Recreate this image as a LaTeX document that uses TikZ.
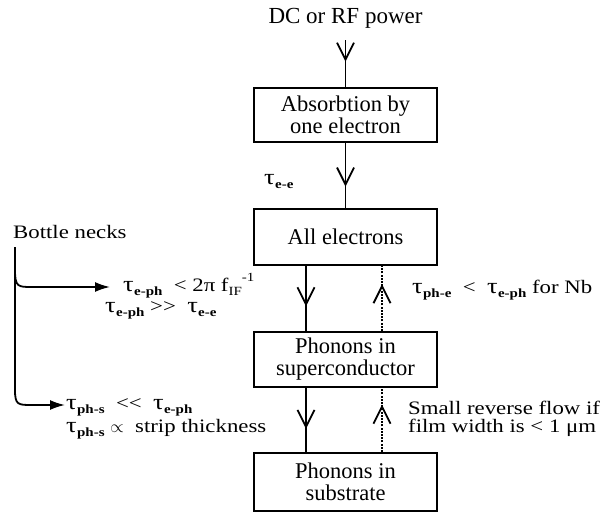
\documentclass[tikz,border=0pt]{standalone}
\usepackage{fontspec}
\setmainfont{Liberation Serif}
\newfontfamily\lblfont[FakeStretch=1.2]{Liberation Serif}
\usetikzlibrary{arrows.meta,decorations.markings,calc}
\newcommand\sbx[1]{\raisebox{-0.26em}{\fontsize{12.5}{12.5}\selectfont\bfseries #1}}
\newcommand\spx[1]{\raisebox{0.5em}{\fontsize{12.5}{12.5}\selectfont #1}}
\newcommand\tsb[1]{{\fontsize{22}{22}\selectfont τ}\kern0.3pt\sbx{#1}}
\tikzset{
  box/.style={draw, line width=2.1pt, minimum width=183pt, inner sep=0pt,
    align=center, font=\fontsize{22.5}{22}\selectfont},
  lbl/.style={inner sep=0pt, anchor=base west, font=\lblfont\fontsize{19}{16}\selectfont},
  flow/.style={line width=1.7pt, postaction=decorate, decoration={markings,
    mark=at position #1 with {\arrow{Straight Barb[length=17pt,width=17pt,line width=1.8pt]}}}},
  retflow/.style={flow=#1, line width=1.2pt, dash pattern=on 2pt off 1.2pt},
  neck/.style={line width=1.8pt, -{Latex[length=15pt,width=10pt]}}
}
\begin{document}
\begin{tikzpicture}[x=1pt,y=-1pt]
\useasboundingbox (0,0) rectangle (607,513);
\node[font=\fontsize{23}{23}\selectfont, inner sep=0pt] (pw) at (345.5,18) {DC or RF power};
\node[box, minimum height=54pt] (abs) at (345.5,115) {Absorbtion by\\one electron};
\node[box, minimum height=56pt] (all) at (345.5,237) {All electrons};
\node[box, minimum height=55pt] (sc) at (345.5,359.5) {Phonons in\\superconductor};
\node[box, minimum height=58pt] (sub) at (345.5,482) {Phonons in\\substrate};
\coordinate (xl) at (306,0);
\coordinate (xr) at (382,0);
\draw[flow=0.57, shorten <=12pt] (pw.south) -- (abs.north);
\draw[flow=0.67] (abs.south) -- (all.north);
\draw[flow=0.62] (all.south -| xl) -- (sc.north -| xl);
\draw[retflow=0.72] (sc.north -| xr) -- (all.south -| xr);
\draw[flow=0.64] (sc.south -| xl) -- (sub.north -| xl);
\draw[retflow=0.74] (sub.north -| xr) -- (sc.south -| xr);
\node[lbl] (tee) at (264,184) {\tsb{e-e}};
% bottle necks
\node[lbl] (bn) at (13,238) {Bottle necks};
\coordinate (bt) at (15,247);
\coordinate (e1) at (110,287);
\coordinate (e2) at (65,405);
\draw[neck] (bt |- 0,270) .. controls (15,287) and (18,287) .. (32,287) -- (e1);
\draw[neck] (bt) -- (15,390) .. controls (15,405) and (18,405) .. (32,405) -- (e2);
\node[lbl] (l1) at (123,291) {\tsb{e-ph}\ \ < 2π f\sbx{\mdseries IF}\spx{-1}};
\node[lbl] (l2) at (105,312) {\tsb{e-ph} >>\ \ \tsb{e-e}};
\node[lbl] (l3) at (66,409) {\tsb{ph-s}\ \ <<\ \ \tsb{e-ph}};
\node[lbl] (l4) at (66,432) {\tsb{ph-s} $\propto$\ \ strip thickness};
\node[lbl] (r1) at (412,293) {\tsb{ph-e}\ \ <\ \ \tsb{e-ph} for Nb};
\node[lbl] (r2) at (408,414) {Small reverse flow if};
\node[lbl] (r3) at (408,432) {film width is < 1 μm};
\end{tikzpicture}
\end{document}
